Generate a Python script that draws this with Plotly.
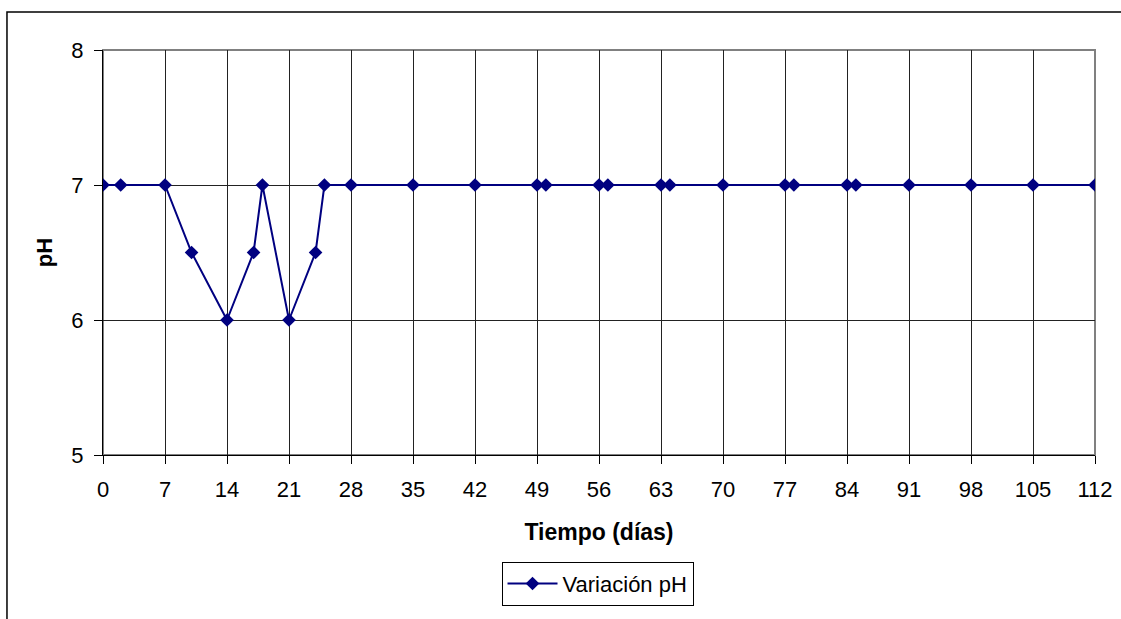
import plotly.graph_objects as go

# Data
dias = [0, 2, 7, 10, 14, 17, 18, 21, 24, 25, 28, 35, 42, 49, 50, 56, 57,
        63, 64, 70, 77, 78, 84, 85, 91, 98, 105, 112]
ph = [7, 7, 7, 6.5, 6, 6.5, 7, 6, 6.5, 7, 7, 7, 7, 7, 7, 7, 7,
      7, 7, 7, 7, 7, 7, 7, 7, 7, 7, 7]
x_ticks = list(range(0, 113, 7))
y_ticks = [5, 6, 7, 8]

FONT = "Liberation Sans, Arial, sans-serif"

fig = go.Figure()
fig.add_trace(go.Scatter(
    x=dias, y=ph, mode="lines+markers", name="Variación pH",
    line=dict(color="#000080", width=2),
    marker=dict(symbol="diamond", size=10.5, color="#000080"),
))

fig.update_layout(
    width=1121, height=619,
    margin=dict(l=103, r=26, t=50, b=164),
    paper_bgcolor="white", plot_bgcolor="white",
    font=dict(family=FONT, size=22, color="black"),
    showlegend=True,
    legend=dict(
        x=0.4985, y=-0.372, xanchor="center", yanchor="bottom",
        bordercolor="black", borderwidth=1, bgcolor="white",
        font=dict(size=22), itemwidth=50,
    ),
    xaxis=dict(
        range=[0, 112], tickmode="array", tickvals=x_ticks,
        showgrid=True, gridcolor="#222", gridwidth=1,
        showline=True, linecolor="black", linewidth=1,
        ticks="outside", ticklen=8, tickcolor="black",
        ticklabelstandoff=7,
        zeroline=False, automargin=False,
        title=dict(text="<b>Tiempo (días)</b>", font=dict(size=23), standoff=22),
    ),
    yaxis=dict(
        range=[5, 8], tickmode="array", tickvals=y_ticks,
        showgrid=True, gridcolor="#222", gridwidth=1,
        showline=True, linecolor="black", linewidth=1,
        ticks="outside", ticklen=8, tickcolor="black",
        ticklabelstandoff=6,
        zeroline=False, automargin=False,
        title=dict(text="<b>pH</b>", font=dict(size=22), standoff=12),
    ),
    shapes=[
        dict(type="rect", xref="paper", yref="paper", x0=0, y0=0, x1=1, y1=1,
             line=dict(color="#808080", width=2), layer="below"),
        dict(type="rect", xref="paper", yref="paper",
             x0=-0.0968, y0=-0.6, x1=1.1, y1=1.0938,
             line=dict(color="black", width=1.5), layer="below"),
    ],
)

fig.write_html("out.html")
